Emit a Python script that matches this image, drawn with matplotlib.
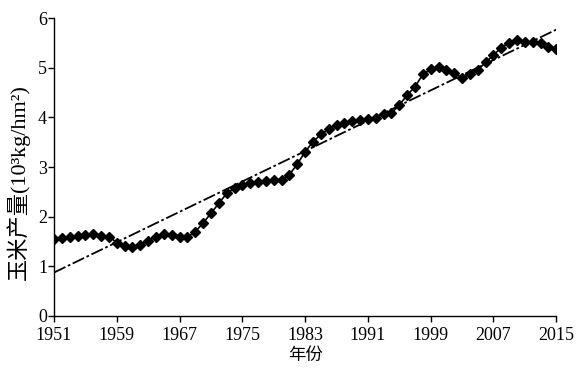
#!/usr/bin/env python3

"""
Corn yield trend 1951-2015
"""

import numpy as np
import matplotlib
matplotlib.use("Agg")
import matplotlib.pyplot as plt

# =======================
# Data
# =======================
years = list(range(1951, 2016))
yield_vals = [
    1.55, 1.57, 1.60, 1.62, 1.63, 1.65, 1.62, 1.60, 1.48, 1.41,   # 1951-1960
    1.38, 1.43, 1.52, 1.60, 1.65, 1.63, 1.59, 1.59, 1.70, 1.87,   # 1961-1970
    2.07, 2.27, 2.47, 2.57, 2.64, 2.68, 2.70, 2.71, 2.73, 2.74,   # 1971-1980
    2.85, 3.06, 3.31, 3.51, 3.66, 3.76, 3.85, 3.88, 3.92, 3.94,   # 1981-1990
    3.97, 3.99, 4.07, 4.09, 4.25, 4.45, 4.62, 4.87, 4.97, 5.01,   # 1991-2000
    4.96, 4.89, 4.80, 4.87, 4.96, 5.11, 5.26, 5.41, 5.51, 5.56,   # 2001-2010
    5.52, 5.52, 5.50, 5.43, 5.39,                                 # 2011-2015
]
xtick_years = [1951, 1959, 1967, 1975, 1983, 1991, 1999, 2007, 2015]
ytick_vals = [0, 1, 2, 3, 4, 5, 6]

xlabel = "年份"
ylabel = "玉米产量(10³kg/hm²)"

# =======================
# Fonts
# =======================
font_list = ["Liberation Serif", "Noto Sans CJK SC", "DejaVu Sans"]
plt.rcParams["font.family"] = font_list

# =======================
# Plot
# =======================
fig = plt.figure(figsize=(5.84, 3.73), dpi=100)
ax = fig.add_axes([0.0925, 0.153, 0.860, 0.798])

ax.plot(years, yield_vals, color="black", lw=1.2,
        marker="D", markersize=5.5, zorder=3)

# linear trend
coef = np.polyfit(years, yield_vals, 1)
trend_x = np.array([years[0], years[-1]])
ax.plot(trend_x, np.polyval(coef, trend_x), color="black", lw=1.3,
        linestyle=(0, (7, 1.5, 1.5, 1.5)), zorder=2)

ax.set_xlim(1951, 2015)
ax.set_ylim(0, 6)
ax.set_xticks(xtick_years)
ax.set_yticks(ytick_vals)
ax.tick_params(direction="out", length=4, width=1, labelsize=13,
               colors="black")
ax.tick_params(axis="x", pad=4)
ax.tick_params(axis="y", pad=1)

for side in ["top", "right"]:
    ax.spines[side].set_visible(False)
for side in ["left", "bottom"]:
    ax.spines[side].set_linewidth(1)

ax.set_xlabel(xlabel, fontsize=12.5, labelpad=3)
ax.set_ylabel(ylabel, fontsize=16)
ax.yaxis.set_label_coords(-0.048, 0.45)

plt.savefig("out.png", dpi=100)
plt.close()
